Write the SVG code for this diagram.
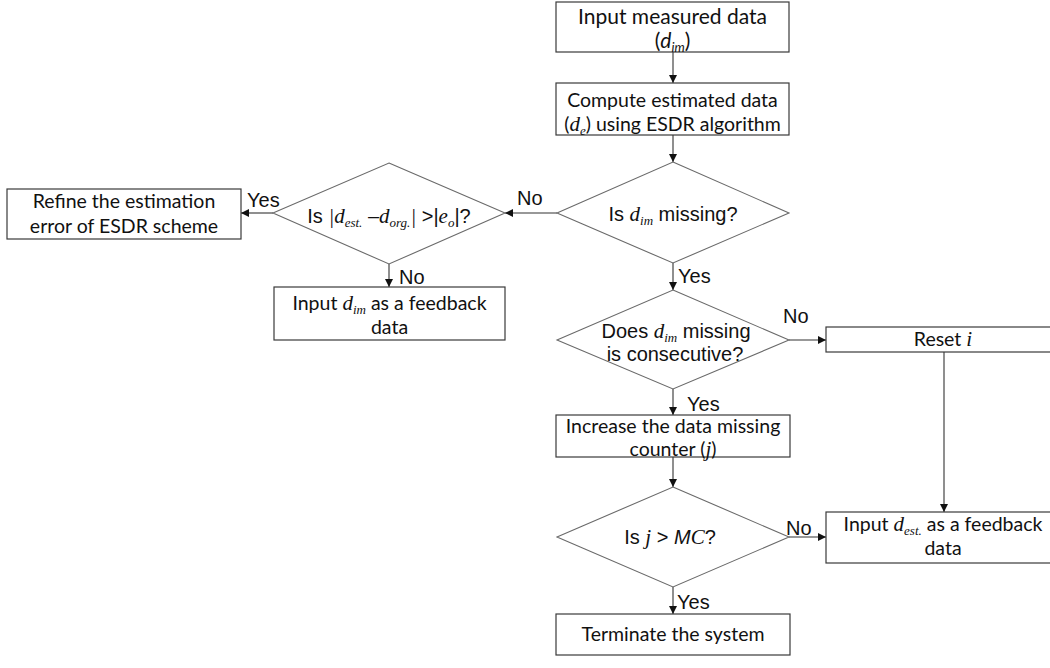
<svg xmlns="http://www.w3.org/2000/svg" width="1050" height="668" viewBox="0 0 1050 668">
  <defs>
    <marker id="arrow" viewBox="0 0 10 10" refX="10" refY="5" markerWidth="9" markerHeight="8" markerUnits="userSpaceOnUse" orient="auto">
      <path d="M0,0 L10,5 L0,10 Z" fill="#111"/>
    </marker>
  </defs>
  <style>
    .box { fill: #fff; stroke: #3a3a3a; stroke-width: 1.2; }
    .dia { fill: #fff; stroke: #6a6a6a; stroke-width: 1.1; }
    .edge { fill: none; stroke: #333; stroke-width: 1.1; }
    .arr { marker-end: url(#arrow); }
    .bt { font-family: Lato, "Open Sans", sans-serif; font-size: 19.5px; fill: #111; text-anchor: middle; }
    .dt { font-family: "Liberation Sans", Arial, sans-serif; font-size: 20px; fill: #111; text-anchor: middle; }
    .lbl { font-family: "Liberation Sans", Arial, sans-serif; font-size: 20px; fill: #111; }
    .v { font-family: "Liberation Serif", "Times New Roman", serif; font-style: italic; font-size: 21px; }
    .vs { font-family: "Liberation Serif", "Times New Roman", serif; font-style: italic; font-size: 13px; }
    .si { font-style: italic; }
  </style>

  <!-- connectors -->
  <g id="connectors">
    <line class="edge arr" x1="673" y1="52" x2="673" y2="83"/>
    <line class="edge arr" x1="673" y1="135" x2="673" y2="162"/>
    <line class="edge arr" x1="557" y1="213" x2="505" y2="213"/>
    <line class="edge arr" x1="273" y1="213" x2="241" y2="213"/>
    <line class="edge arr" x1="389" y1="264" x2="389" y2="287"/>
    <line class="edge arr" x1="673" y1="263" x2="673" y2="290"/>
    <line class="edge arr" x1="789" y1="340" x2="826" y2="340"/>
    <line class="edge arr" x1="944" y1="352" x2="944" y2="512"/>
    <line class="edge arr" x1="673" y1="389" x2="673" y2="415"/>
    <line class="edge arr" x1="673" y1="457" x2="673" y2="487"/>
    <line class="edge arr" x1="789" y1="537" x2="826" y2="537"/>
    <line class="edge arr" x1="673" y1="587" x2="673" y2="614"/>

    <text class="lbl" x="517" y="205">No</text>
    <text class="lbl" x="247" y="207">Yes</text>
    <text class="lbl" x="399" y="284">No</text>
    <text class="lbl" x="678" y="283">Yes</text>
    <text class="lbl" x="783" y="323">No</text>
    <text class="lbl" x="687" y="411">Yes</text>
    <text class="lbl" x="786" y="535">No</text>
    <text class="lbl" x="677" y="609">Yes</text>
  </g>

  <!-- process boxes and decisions -->
  <g id="input-measured">
    <rect class="box" x="556" y="2" width="233" height="50"/>
    <text class="bt" x="672.5" y="24" style="font-size:21px">Input measured data</text>
    <text class="bt" x="672.5" y="48" style="font-size:21px">(<tspan class="si">d</tspan><tspan class="si" font-size="13" dy="4">im</tspan><tspan dy="-4">)</tspan></text>
  </g>

  <g id="compute-estimated">
    <rect class="box" x="556" y="83" width="233" height="52"/>
    <text class="bt" x="672.5" y="107">Compute estimated data</text>
    <text class="bt" x="672.5" y="131">(<tspan class="v">d</tspan><tspan class="vs" dy="4">e</tspan><tspan dy="-4">) using ESDR algorithm</tspan></text>
  </g>

  <g id="is-missing">
    <polygon class="dia" points="673,162 789,213 673,263 557,213"/>
    <text class="dt" x="673" y="221">Is <tspan class="v">d</tspan><tspan class="vs" dy="4">im</tspan><tspan dy="-4"> missing?</tspan></text>
  </g>

  <g id="error-check">
    <polygon class="dia" points="389,163 505,213 389,264 273,213"/>
    <text class="dt" x="389" y="223">Is <tspan class="v">|d</tspan><tspan class="vs" dy="4">est.</tspan><tspan dy="-4"> –</tspan><tspan class="v">d</tspan><tspan class="vs" dy="4">org.</tspan><tspan class="v" dy="-4">|</tspan><tspan> &gt;|</tspan><tspan class="v">e</tspan><tspan class="vs" dy="4">o</tspan><tspan dy="-4">|?</tspan></text>
  </g>

  <g id="refine">
    <rect class="box" x="7" y="189" width="234" height="50"/>
    <text class="bt" x="124" y="208">Refine the estimation</text>
    <text class="bt" x="124" y="233">error of ESDR scheme</text>
  </g>

  <g id="feedback-measured">
    <rect class="box" x="274" y="287" width="231" height="53"/>
    <text class="bt" x="389.5" y="310">Input <tspan class="v">d</tspan><tspan class="vs" dy="4">im</tspan><tspan dy="-4"> as a feedback</tspan></text>
    <text class="bt" x="389.5" y="334">data</text>
  </g>

  <g id="consecutive">
    <polygon class="dia" points="673,290 789,340 673,389 557,340"/>
    <text class="dt" x="676" y="338">Does <tspan class="v">d</tspan><tspan class="vs" dy="4">im</tspan><tspan dy="-4"> missing</tspan></text>
    <text class="dt" x="675" y="361">is consecutive?</text>
  </g>

  <g id="reset">
    <rect class="box" x="826" y="327" width="240" height="25"/>
    <text class="bt" x="943" y="346">Reset <tspan class="v">i</tspan></text>
  </g>

  <g id="increase-counter">
    <rect class="box" x="556" y="415" width="234" height="42"/>
    <text class="bt" x="673" y="433">Increase the data missing</text>
    <text class="bt" x="673" y="456">counter (<tspan class="v">j</tspan>)</text>
  </g>

  <g id="limit-check">
    <polygon class="dia" points="673,487 789,537 673,587 557,537"/>
    <text class="dt" x="670" y="544">Is <tspan class="v">j</tspan> &gt; <tspan class="si">M</tspan><tspan class="v" font-size="17">C</tspan>?</text>
  </g>

  <g id="feedback-estimated">
    <rect class="box" x="826" y="512" width="240" height="51"/>
    <text class="bt" x="943" y="531">Input <tspan class="v">d</tspan><tspan class="vs" dy="4">est.</tspan><tspan dy="-4"> as a feedback</tspan></text>
    <text class="bt" x="943" y="555">data</text>
  </g>

  <g id="terminate">
    <rect class="box" x="556" y="614" width="234" height="41"/>
    <text class="bt" x="673" y="641">Terminate the system</text>
  </g>
</svg>
